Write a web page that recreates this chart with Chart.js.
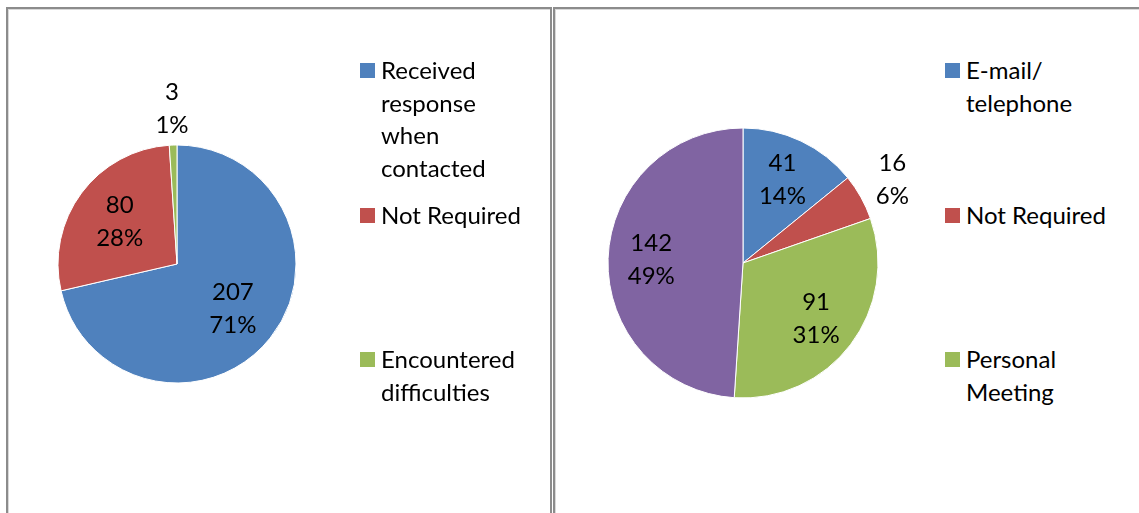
<!DOCTYPE html>
<html>
<head>
<meta charset="utf-8">
<script src="https://cdn.jsdelivr.net/npm/chart.js@4.4.0/dist/chart.umd.min.js"></script>
<style>
  body { margin: 0; width: 1139px; height: 513px; overflow: hidden; background: #fff; position: relative; font-family: Lato, sans-serif; }
  .panel { position: absolute; top: 7px; height: 540px; border: 2px solid #8c8c8c; border-bottom: none; box-shadow: inset 1px 1px 0 #d9d9d9; }
  canvas { position: absolute; }
  .legend-text { position: absolute; font-size: 24px; line-height: 32.5px; color: #000; white-space: pre-line; }
  .swatch { position: absolute; width: 15px; height: 15px; }
</style>
</head>
<body>
<div class="panel" style="left:6px; width:542px;"></div>
<div class="panel" style="left:553px; width:600px;"></div>
<canvas id="leftPie" width="400" height="400" style="left:-23px; top:64px;"></canvas>
<canvas id="rightPie" width="400" height="400" style="left:543px; top:63px;"></canvas>

<script>
const leftCategories = ['Received\nresponse\nwhen\ncontacted', 'Not Required', 'Encountered\ndifficulties']
const leftValues = [207, 80, 3]

const rightCategories = ['E-mail/\ntelephone', 'Not Required', 'Personal\nMeeting', 'Other']
const rightValues = [41, 16, 91, 142]

const sliceColors = ['#4f81bd', '#c0504d', '#9bbb59', '#8064a2']

// value + percentage labels, inside the slice or just outside for thin ones
const pieLabels = {
  id: 'pieLabels',
  afterDatasetsDraw (chart, args, opts) {
    const { ctx } = chart
    const data = chart.data.datasets[0].data
    const total = data.reduce((a, b) => a + b, 0)
    const arcs = chart.getDatasetMeta(0).data
    ctx.save()
    ctx.font = '24px Lato'
    ctx.fillStyle = '#000'
    ctx.textAlign = 'center'
    ctx.textBaseline = 'middle'
    arcs.forEach((arc, i) => {
      const pct = data[i] / total
      const mid = (arc.startAngle + arc.endAngle) / 2
      const r = pct < 0.08 ? arc.outerRadius + opts.outside : arc.outerRadius * opts.inside
      const x = arc.x + Math.cos(mid) * r
      const y = arc.y + Math.sin(mid) * r
      ctx.fillText(String(data[i]), x, y - 16.5)
      ctx.fillText(Math.round(pct * 100) + '%', x, y + 16.5)
    })
    ctx.restore()
  }
}

function makePie (id, labels, values, pad, inside) {
  return new Chart(id, {
    type: 'pie',
    data: {
      labels: labels,
      datasets: [{
        data: values,
        backgroundColor: sliceColors.slice(0, values.length),
        borderColor: '#ffffff',
        borderWidth: 1
      }]
    },
    options: {
      responsive: false,
      animation: false,
      layout: { padding: pad },
      plugins: {
        legend: { display: false },
        tooltip: { enabled: false },
        pieLabels: { inside: inside, outside: 36 }
      }
    },
    plugins: [pieLabels]
  })
}

function buildLegend (labels, shown, left) {
  for (let i = 0; i < shown; i++) {
    const top = 54 + i * 144.5
    const sw = document.createElement('div')
    sw.className = 'swatch'
    sw.style.left = left + 'px'
    sw.style.top = (top + 9) + 'px'
    sw.style.background = sliceColors[i]
    document.body.appendChild(sw)

    const txt = document.createElement('div')
    txt.className = 'legend-text'
    txt.style.left = (left + 21) + 'px'
    txt.style.top = top + 'px'
    txt.textContent = labels[i]
    document.body.appendChild(txt)
  }
}

makePie('leftPie', leftCategories, leftValues, 80.5, 0.6)
makePie('rightPie', rightCategories, rightValues, 64.5, 0.68)

buildLegend(leftCategories, 3, 360)
// the 4th entry did not fit in the original legend
buildLegend(rightCategories, 3, 945)
</script>
</body>
</html>
